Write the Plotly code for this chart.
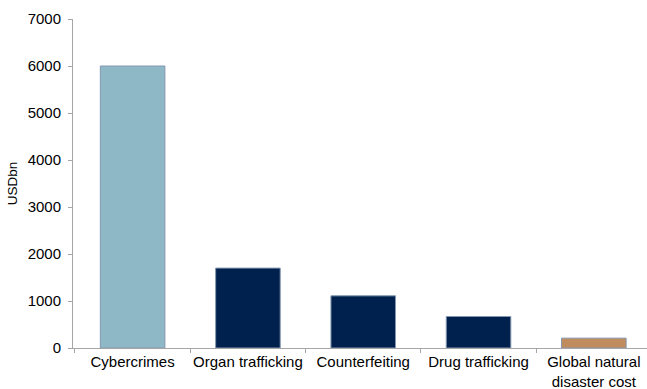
import plotly.graph_objects as go

# Estimated annual cost by category, USD billions
categories = ["Cybercrimes", "Organ trafficking", "Counterfeiting", "Drug trafficking",
              "Global natural<br>disaster cost"]
values = [6000, 1700, 1110, 670, 210]
bar_colors = ["#8FB8C7", "#00214E", "#00214E", "#00214E", "#C18C5D"]

y_ticks = [0, 1000, 2000, 3000, 4000, 5000, 6000, 7000]

FONT = "Liberation Sans, Arial, sans-serif"

fig = go.Figure(
    go.Bar(
        x=categories,
        y=values,
        marker=dict(color=bar_colors, line=dict(color="#8497B0", width=1)),
        width=0.56,
    )
)

fig.update_layout(
    width=647,
    height=389,
    margin=dict(l=73, r=0, t=19, b=41),
    paper_bgcolor="white",
    plot_bgcolor="white",
    font=dict(family=FONT, size=15, color="#000000"),
    showlegend=False,
)

fig.update_xaxes(
    range=[-0.517, 4.461],
    showline=True,
    linecolor="#A6A6A6",
    linewidth=1,
    ticks="outside",
    tickson="boundaries",
    ticklen=4,
    tickcolor="#A6A6A6",
    showgrid=False,
    tickangle=0,
    automargin=False,
    tickfont=dict(size=15),
)

fig.update_yaxes(
    range=[0, 7000],
    tickvals=y_ticks,
    showline=True,
    linecolor="#A6A6A6",
    linewidth=1,
    ticks="outside",
    ticklen=4,
    tickcolor="#A6A6A6",
    showgrid=False,
    zeroline=False,
    automargin=False,
    tickfont=dict(size=15),
    ticklabelstandoff=4,
    title=dict(text="USDbn", font=dict(size=13.5), standoff=6),
)

fig.write_html("out.html")
